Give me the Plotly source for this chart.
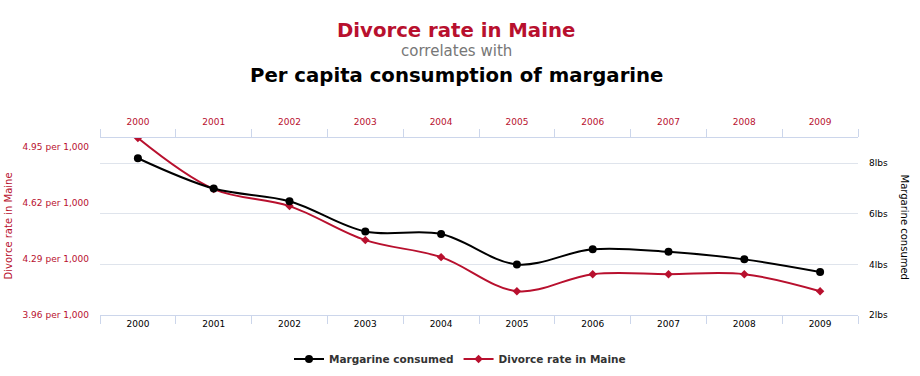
import plotly.graph_objects as go

years = ["2000", "2001", "2002", "2003", "2004", "2005", "2006", "2007", "2008", "2009"]
margarine = [8.2, 7.0, 6.5, 5.3, 5.2, 4.0, 4.6, 4.5, 4.2, 3.7]
divorce = [5.0, 4.7, 4.6, 4.4, 4.3, 4.1, 4.2, 4.2, 4.2, 4.1]

left_ticks = [3.96, 4.29, 4.62, 4.95]
left_labels = ["3.96 per 1,000", "4.29 per 1,000", "4.62 per 1,000", "4.95 per 1,000"]
right_ticks = [2, 4, 6, 8]
right_labels = ["2lbs", "4lbs", "6lbs", "8lbs"]

RED = "#b8102e"
AXIS = "#ccd6eb"
GRID = "#dfe4ec"
FONT = "DejaVu Sans"

idx = list(range(len(years)))
bounds = [i - 0.5 for i in range(len(years) + 1)]

fig = go.Figure()
fig.add_trace(go.Scatter(
    x=years, y=margarine, name="Margarine consumed",
    xaxis="x", yaxis="y2",
    mode="lines+markers", line=dict(color="#000000", width=2, shape="spline"),
    marker=dict(symbol="circle", size=8, color="#000000"),
))
fig.add_trace(go.Scatter(
    x=years, y=divorce, name="Divorce rate in Maine",
    xaxis="x", yaxis="y",
    mode="lines+markers", line=dict(color=RED, width=2, shape="spline"),
    marker=dict(symbol="diamond", size=6.5, color=RED),
))
# invisible helper so the top (red) year axis is drawn
fig.add_trace(go.Scatter(
    x=idx, y=divorce, xaxis="x2", yaxis="y", mode="markers",
    marker=dict(opacity=0, size=1), showlegend=False, hoverinfo="skip",
))

fig.update_layout(
    width=920, height=376,
    margin=dict(l=100, r=62, t=138, b=61),
    paper_bgcolor="white", plot_bgcolor="white",
    font=dict(family=FONT, size=9, color="#000000"),
    showlegend=True,
    legend=dict(orientation="h", xref="container", yref="container",
                x=0.5, xanchor="center", y=1 - 359 / 376, yanchor="middle",
                font=dict(family=FONT, size=10.5, color="#333333", weight="bold"),
                itemwidth=30, tracegroupgap=0),
    xaxis=dict(type="category", categoryorder="array", categoryarray=years,
               range=[-0.5, 9.5], tickson="boundaries", ticks="outside", ticklen=8,
               tickcolor=AXIS, showline=True, linecolor=AXIS, linewidth=1,
               showgrid=False, zeroline=False, fixedrange=True,
               tickfont=dict(family=FONT, size=9, color="#000000")),
    xaxis2=dict(type="linear", overlaying="x", side="top", anchor="y",
                range=[-0.5, 9.5], tickmode="array", tickvals=idx, ticktext=years,
                ticks="", ticklabelstandoff=8,
                minor=dict(tickmode="array", tickvals=bounds, ticks="outside", ticklen=8,
                           tickcolor=AXIS, showgrid=False),
                showline=True, linecolor=AXIS, linewidth=1,
                showgrid=False, zeroline=False,
                tickfont=dict(family=FONT, size=9, color=RED)),
    yaxis=dict(range=[3.96, 5.0], tickvals=left_ticks, ticktext=left_labels,
               showgrid=False, zeroline=False, showline=False, ticks="",
               ticklabelstandoff=10,
               tickfont=dict(family=FONT, size=9, color=RED)),
    yaxis2=dict(range=[2, 9], tickvals=right_ticks, ticktext=right_labels,
                overlaying="y", side="right", anchor="x",
                showgrid=True, gridcolor=GRID, gridwidth=1, zeroline=False,
                showline=False, ticks="", ticklabelstandoff=10,
                tickfont=dict(family=FONT, size=9, color="#000000")),
    annotations=[
        dict(text="<b>Divorce rate in Maine</b>", x=0.4697, y=1.607, xref="paper", yref="paper",
             xanchor="center", yanchor="middle", showarrow=False,
             font=dict(family=FONT, size=19.7, color=RED)),
        dict(text="correlates with", x=0.4697, y=1.49, xref="paper", yref="paper",
             xanchor="center", yanchor="middle", showarrow=False,
             font=dict(family=FONT, size=15, color="#777777")),
        dict(text="<b>Per capita consumption of margarine</b>", x=0.4697, y=1.351,
             xref="paper", yref="paper", xanchor="center", yanchor="middle", showarrow=False,
             font=dict(family=FONT, size=19.7, color="#000000")),
        dict(text="Divorce rate in Maine", x=(8 - 100) / 758, y=0.5, xref="paper", yref="paper",
             xanchor="center", yanchor="middle", showarrow=False, textangle=-90,
             font=dict(family=FONT, size=10, color=RED)),
        dict(text="Margarine consumed", x=(904 - 100) / 758, y=0.5, xref="paper", yref="paper",
             xanchor="center", yanchor="middle", showarrow=False, textangle=90,
             font=dict(family=FONT, size=10, color="#000000")),
    ],
)

fig.write_html("out.html", config={"displayModeBar": False},
               post_script="document.body.style.margin='0';")
